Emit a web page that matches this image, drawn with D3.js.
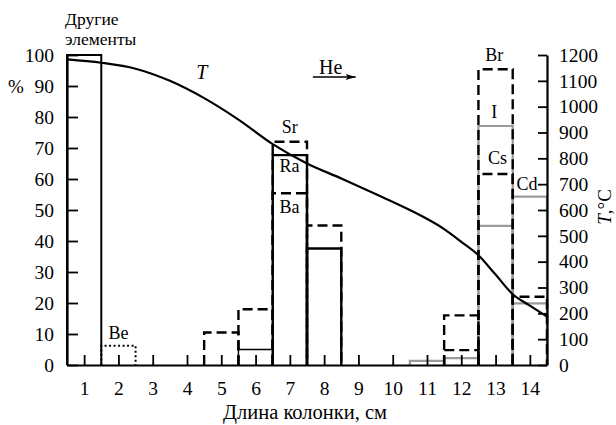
<!DOCTYPE html>
<html>
<head>
<meta charset="utf-8">
<script src="https://cdn.jsdelivr.net/npm/d3@7"></script>
<style>
  body { margin: 0; background: #fff; }
</style>
</head>
<body>
<svg id="canvas" width="616" height="425"></svg>
<script>
// ---------------------------------------------------------------- //
// Data (bins are 1 cm wide, keyed by their centre)

var xTicks = [1,2,3,4,5,6,7,8,9,10,11,12,13,14];
var pctTicks = [0,10,20,30,40,50,60,70,80,90,100];
var tempTicks = [0,100,200,300,400,500,600,700,800,900,1000,1100,1200];

var otherBins = [[1, 100]];
var beBins = [[2, 6.2]];
var srBins = [[5, 10.5], [6, 18], [7, 72], [8, 45]];
var raBins = [[7, 55.4]];
var baBins = [[6, 5], [7, 67.7], [8, 37.6]];
var brBins = [[12, 16], [13, 95.4], [14, 22]];
var csDashBins = [[12, 4.8], [13, 61.6]];
var iBins = [[13, 77.1]];
var csBins = [[11, 1.3], [12, 2.2], [13, 44.9], [14, 19.9]];
var cdBins = [[14, 54.3]];

// temperature along the column, degC
var tempPos = [0.5, 1.5, 2.5, 3.5, 4.5, 5.5, 6.5, 7.5, 8.5, 9.5, 10.5, 11.5, 12, 12.5, 13, 13.5, 14, 14.5];
var tempVal = [1183, 1170, 1147, 1100, 1033, 950, 855, 780, 722, 662, 600, 526, 477, 425, 350, 274, 230, 187];

// element labels: [text, x (cm), y (%)]
var labels = [['Sr', 7, 76.9], ['Ra', 6.99, 64.2], ['Ba', 6.99, 51.1], ['Be', 2, 10.4],
              ['Br', 12.96, 100], ['I', 12.96, 81.7], ['Cs', 13.06, 67], ['Cd', 13.92, 58.6]];

// ---------------------------------------------------------------- //
// Create

var FONT = '"Liberation Serif", "Times New Roman", "DejaVu Serif", serif';
var svg = d3.select('#canvas');
var W = 616, H = 425;
var margin = { left: 67, right: 69, top: 55, bottom: 60 };

var x = d3.scaleLinear().domain([0.5, 14.5]).range([margin.left, W - margin.right]);
var y = d3.scaleLinear().domain([0, 100]).range([H - margin.bottom, margin.top]);
var yT = d3.scaleLinear().domain([0, 1200]).range([H - margin.bottom, margin.top]);

var marker = svg.append('defs').append('marker')
  .attr('id', 'arrow').attr('viewBox', '0 0 10 6').attr('refX', 10).attr('refY', 3)
  .attr('markerWidth', 11).attr('markerHeight', 6).attr('markerUnits', 'userSpaceOnUse').attr('orient', 'auto');
marker.append('path').attr('d', 'M0,0 L10,3 L0,6 L2,3 Z').attr('fill', '#000');

var boxes = svg.append('g');

function drawBins(bins, stroke, width, dash){
  boxes.append('g').selectAll('path').data(bins).enter().append('path')
    .attr('d', function(d){
      var x0 = x(d[0] - 0.5), x1 = x(d[0] + 0.5), y0 = y(0), y1 = y(d[1]);
      return 'M' + x0 + ',' + y0 + 'V' + y1 + 'H' + x1 + 'V' + y0;
    })
    .attr('fill', 'none').attr('stroke', stroke)
    // the small solid black box near 6 cm is drawn with a thin pen in the original
    .attr('stroke-width', function(d){ return d[1] < 8 && !dash && stroke === '#000' ? width * 0.6 : width; })
    .attr('stroke-dasharray', dash || null);
}

var gray = '#9a9a9a';
drawBins(csBins, gray, 2.2);
drawBins(iBins, gray, 2.2);
drawBins(cdBins, gray, 2.2);
drawBins(otherBins, '#000', 2);
drawBins(baBins, '#000', 2.4);
drawBins(beBins, '#000', 2, '2,2.5');
drawBins(srBins, '#000', 2.4, '10,5');
drawBins(raBins, '#000', 2.4, '10,5');
drawBins(brBins, '#000', 2.4, '10,5');
drawBins(csDashBins, '#000', 2.4, '10,5');

// temperature curve
var lineGen = d3.line().x(function(d){ return x(d[0]); }).y(function(d){ return yT(d[1]); }).curve(d3.curveMonotoneX);
svg.append('path')
  .attr('d', lineGen(tempPos.map(function(p, i){ return [p, tempVal[i]]; })))
  .attr('fill', 'none').attr('stroke', '#000').attr('stroke-width', 2.2);

// axes
var xAxis = svg.append('g').attr('transform', 'translate(0,' + y(0) + ')')
  .call(d3.axisBottom(x).tickValues(xTicks).tickSize(-10).tickSizeOuter(0).tickPadding(16));
var yAxis = svg.append('g').attr('transform', 'translate(' + x(0.5) + ',0)')
  .call(d3.axisLeft(y).tickValues(pctTicks).tickSize(-11).tickSizeOuter(0).tickPadding(13));
var tAxis = svg.append('g').attr('transform', 'translate(' + x(14.5) + ',0)')
  .call(d3.axisRight(yT).tickValues(tempTicks).tickFormat(d3.format('d')).tickSize(-9).tickSizeOuter(0).tickPadding(12));

[xAxis, yAxis, tAxis].forEach(function(a){
  a.select('.domain').attr('stroke', '#000').attr('stroke-width', 2.2);
  a.selectAll('.tick line').attr('stroke', '#000').attr('stroke-width', 1.8);
  a.selectAll('.tick text').attr('font-size', 19.5).attr('fill', '#000');
});

// labels
svg.append('g').selectAll('text').data(labels).enter().append('text')
  .attr('x', function(d){ return x(d[1]); }).attr('y', function(d){ return y(d[2]); })
  .attr('dy', '0.35em').attr('text-anchor', 'middle').attr('font-size', 18)
  .text(function(d){ return d[0]; });

svg.append('text').attr('x', 65).attr('y', 25).attr('font-size', 17.5).text('Другие');
svg.append('text').attr('x', 65).attr('y', 45).attr('font-size', 17.5).text('элементы');
svg.append('text').attr('x', 16).attr('y', y(90)).attr('dy', '0.35em').attr('text-anchor', 'middle').attr('font-size', 19).text('%');

svg.append('text').attr('x', x(4.43)).attr('y', y(94.6)).attr('dy', '0.35em').attr('text-anchor', 'middle')
  .attr('font-size', 20).attr('font-style', 'italic').text('T');

svg.append('text').attr('x', x(8.19)).attr('y', y(96.2)).attr('dy', '0.35em').attr('text-anchor', 'middle')
  .attr('font-size', 20).text('He');
svg.append('line').attr('x1', x(7.67)).attr('y1', y(92.9)).attr('x2', x(8.92)).attr('y2', y(92.9))
  .attr('stroke', '#000').attr('stroke-width', 1.6).attr('marker-end', 'url(#arrow)');

svg.append('text').attr('x', 305).attr('y', 419).attr('text-anchor', 'middle')
  .attr('font-size', 20.5).text('Длина колонки, см');

var tLabel = svg.append('text').attr('transform', 'translate(604,207) rotate(-90)')
  .attr('text-anchor', 'middle').attr('dy', '0.35em').attr('font-size', 19);
tLabel.append('tspan').attr('font-style', 'italic').text('T');
tLabel.append('tspan').text(',°C');

// serif everywhere (inline style wins over the axis font attribute)
svg.selectAll('text').style('font-family', FONT).style('fill', '#000');
</script>
</body>
</html>
